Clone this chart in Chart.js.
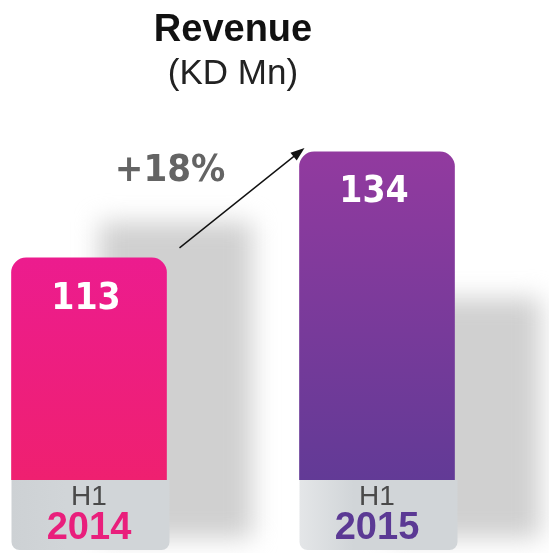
<!DOCTYPE html>
<html>
<head>
<meta charset="utf-8">
<script src="https://cdn.jsdelivr.net/npm/chart.js@4.4.1/dist/chart.umd.min.js"></script>
<style>
  html, body { margin: 0; padding: 0; background: #fff; }
  #wrap { width: 549px; height: 553px; }
</style>
</head>
<body>
<div id="wrap"><canvas id="revenueChart" width="549" height="553"></canvas></div>
<script>
var years = ["2014", "2015"];
var periods = ["H1", "H1"];
var revenue = [113, 134];
var growthText = "+18%";
var chartTitle = "Revenue";
var chartUnit = "(KD Mn)";

var barTopColors = ["#ec1c8e", "#923a9f"];
var barBottomColors = ["#ef2070", "#623a96"];
var yearColors = ["#e91f7c", "#5b3994"];

var condensed = "'DejaVu Sans Condensed', 'Liberation Sans Narrow', sans-serif";
var plain = "'Liberation Sans', Arial, sans-serif";

// how far the grey drop shadow reaches above the axis line, per bar
var shadowHeights = [258, 182];

function barGradient(c) {
  var chart = c.chart;
  var i = c.dataIndex;
  if (!chart.chartArea) return barTopColors[i];
  var top = chart.scales.y.getPixelForValue(revenue[i]);
  var g = chart.ctx.createLinearGradient(0, top, 0, chart.chartArea.bottom);
  g.addColorStop(0, barTopColors[i]);
  g.addColorStop(1, barBottomColors[i]);
  return g;
}

var decorPlugin = {
  id: "decor",
  beforeDraw: function (chart) {
    var ctx = chart.ctx;
    var bars = chart.getDatasetMeta(0).data;
    var bottom = chart.chartArea.bottom;
    ctx.save();
    bars.forEach(function (bar, i) {
      var left = bar.x - bar.width / 2;
      var right = bar.x + bar.width / 2;
      // soft shadow behind the bar
      ctx.filter = "blur(12px)";
      ctx.fillStyle = "#d0d0d0";
      ctx.fillRect(left + 88, bottom - shadowHeights[i], bar.width - 2, shadowHeights[i] + 58);
      ctx.filter = "none";
      // grey plate under the bar holding the labels
      var g = ctx.createLinearGradient(left, 0, right, 0);
      g.addColorStop(0, i === 0 ? "#cdd1d4" : "#e4e6e8");
      g.addColorStop(0.35, "#d1d5d8");
      g.addColorStop(1, "#d1d5d8");
      ctx.fillStyle = g;
      ctx.beginPath();
      ctx.roundRect(left, bottom, right - left + 3, 70, [0, 0, 8, 8]);
      ctx.fill();
    });
    ctx.restore();
  },
  afterDatasetsDraw: function (chart) {
    var ctx = chart.ctx;
    var bars = chart.getDatasetMeta(0).data;
    ctx.save();
    // values inside the bars
    ctx.font = "bold 37px " + condensed;
    ctx.fillStyle = "#fff";
    ctx.textAlign = "center";
    ctx.textBaseline = "middle";
    bars.forEach(function (bar, i) {
      ctx.fillText(String(revenue[i]), bar.x - 3, bar.y + 41);
    });

    // growth arrow
    var a = bars[0], b = bars[1];
    var x1 = a.x + a.width / 2 + 13, y1 = a.y - 10;
    var x2 = b.x - b.width / 2 + 5, y2 = b.y - 4;
    var ang = Math.atan2(y2 - y1, x2 - x1);
    ctx.strokeStyle = "#111";
    ctx.fillStyle = "#111";
    ctx.lineWidth = 1.5;
    ctx.beginPath();
    ctx.moveTo(x1, y1);
    ctx.lineTo(x2 - 8 * Math.cos(ang), y2 - 8 * Math.sin(ang));
    ctx.stroke();
    ctx.beginPath();
    ctx.moveTo(x2, y2);
    ctx.lineTo(x2 - 14 * Math.cos(ang) + 5 * Math.sin(ang), y2 - 14 * Math.sin(ang) - 5 * Math.cos(ang));
    ctx.lineTo(x2 - 14 * Math.cos(ang) - 5 * Math.sin(ang), y2 - 14 * Math.sin(ang) + 5 * Math.cos(ang));
    ctx.closePath();
    ctx.fill();

    ctx.font = "bold 38px " + condensed;
    ctx.fillStyle = "#646464";
    ctx.fillText(growthText, (x1 + x2) / 2 - 72, (y1 + y2) / 2 - 27);
    ctx.restore();
  }
};

new Chart(document.getElementById("revenueChart"), {
  type: "bar",
  data: {
    labels: years,
    datasets: [{
      data: revenue,
      backgroundColor: barGradient,
      borderRadius: { topLeft: 15, topRight: 15, bottomLeft: 0, bottomRight: 0 },
      borderSkipped: false,
      barThickness: 155,
      clip: { left: false, top: false, right: false, bottom: 0 }
    }]
  },
  options: {
    responsive: false,
    animation: false,
    layout: { padding: { left: 89, right: 172, top: 0, bottom: 0 } },
    plugins: {
      legend: { display: false },
      tooltip: { enabled: false },
      title: {
        display: true,
        text: chartTitle,
        color: "#111",
        font: { family: plain, size: 38, weight: "bold" },
        padding: { top: 8, bottom: 0 }
      },
      subtitle: {
        display: true,
        text: chartUnit,
        color: "#222",
        font: { family: plain, size: 35, weight: "normal" },
        padding: { top: 0, bottom: 26 }
      }
    },
    scales: {
      x: {
        offset: false,
        weight: 1,
        grid: { display: false, drawTicks: false },
        border: { display: false },
        ticks: {
          color: function (c) { return yearColors[c.index]; },
          font: { family: plain, size: 38, weight: "bold", lineHeight: 0.85 },
          padding: 0,
          maxRotation: 0,
          autoSkip: false
        },
        afterFit: function (s) { s.height = 41; }
      },
      xPeriod: {
        type: "category",
        labels: periods,
        position: "bottom",
        offset: false,
        weight: 0,
        grid: { display: false, drawTicks: false },
        border: { display: false },
        ticks: {
          color: "#4a4a4a",
          font: { family: plain, size: 28 },
          padding: 0,
          maxRotation: 0,
          autoSkip: false
        },
        afterFit: function (s) { s.height = 32; }
      },
      y: { display: false, min: 69, max: 140 }
    }
  },
  plugins: [decorPlugin]
});
</script>
</body>
</html>
